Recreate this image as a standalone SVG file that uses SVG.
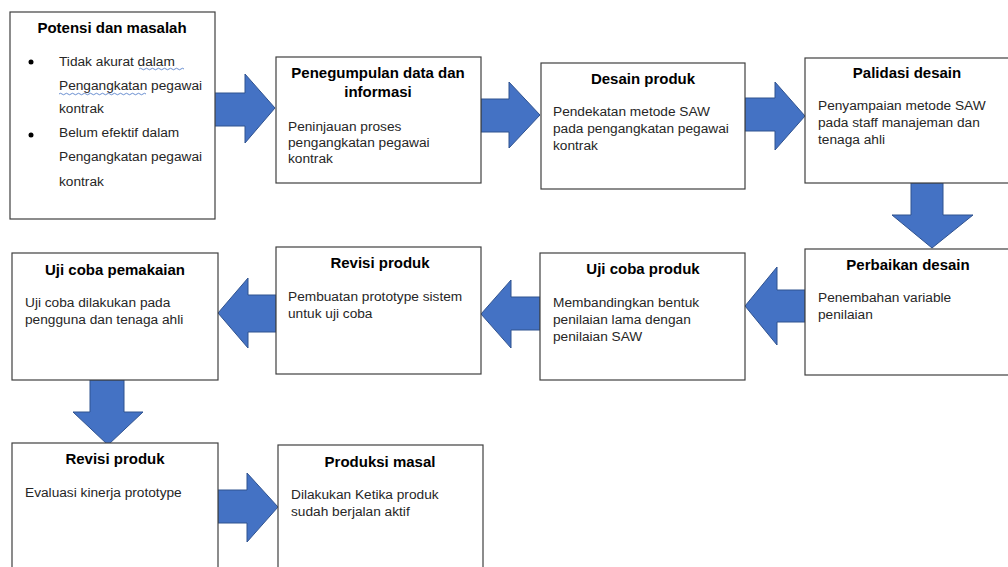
<svg xmlns="http://www.w3.org/2000/svg" width="1008" height="567" viewBox="0 0 1008 567">
<style>
.box{fill:#fff;stroke:#404040;stroke-width:1.2}
.t{font-family:"Liberation Sans",Arial,sans-serif;font-size:15px;font-weight:bold;fill:#000;text-anchor:middle}
.b{font-family:"Liberation Sans",Arial,sans-serif;font-size:13.7px;fill:#262626}
.arr{fill:#4472C4;stroke:#2F528F;stroke-width:1}
.sq{fill:none;stroke:#4472C4;stroke-width:0.8}
</style>
<rect width="1008" height="567" fill="#fff"/>
<g id="connectors">
<polygon class="arr" points="214,93 245,93 245,74 275,108 245,143 245,126 214,126"/>
<polygon class="arr" points="481,99 509,99 509,82 540,115 509,148 509,132 481,132"/>
<polygon class="arr" points="745,98 775,98 775,82 805,116 775,150 775,131 745,131"/>
<polygon class="arr" points="911,183 943,183 943,215 973,215 932,248 892,215 911,215"/>
<polygon class="arr" points="805,290 777,290 777,267 745,306 777,345 777,322 805,322"/>
<polygon class="arr" points="540,297 511,297 511,280 481,314 511,348 511,330 540,330"/>
<polygon class="arr" points="276,295 248,295 248,278 218,313 248,348 248,332 276,332"/>
<polygon class="arr" points="90,380 124,380 124,412 143,412 108,445 73,412 90,412"/>
<polygon class="arr" points="218,490 247,490 247,473 278,507 247,542 247,523 218,523"/>
</g>
<g id="n1">
<rect class="box" x="10" y="12" width="205" height="207"/>
<text class="t" x="112" y="33">Potensi dan masalah</text>
<circle cx="31" cy="62" r="2.5" fill="#000"/>
<circle cx="31" cy="135" r="2.5" fill="#000"/>
<text class="b" x="59" y="66">Tidak akurat dalam</text>
<text class="b" x="59" y="90">Pengangkatan pegawai</text>
<text class="b" x="59" y="113">kontrak</text>
<text class="b" x="59" y="137">Belum efektif dalam</text>
<text class="b" x="59" y="161">Pengangkatan pegawai</text>
<text class="b" x="59" y="186">kontrak</text>
<path class="sq" d="M139,69 q1.5,-1.5 3,0 t3,0 t3,0 t3,0 t3,0 t3,0 t3,0 t3,0 t3,0 t3,0 t3,0 t3,0 t3,0 t3,0 t3,0"/>
<path class="sq" d="M59,94 q1.5,-1.5 3,0 t3,0 t3,0 t3,0 t3,0 t3,0 t3,0 t3,0 t3,0 t3,0 t3,0 t3,0 t3,0 t3,0 t3,0 t3,0 t3,0 t3,0 t3,0 t3,0 t3,0 t3,0 t3,0 t3,0 t3,0 t3,0 t3,0 t3,0 t3,0"/>
</g>
<g id="n2">
<rect class="box" x="276" y="57" width="205" height="126"/>
<text class="t" x="378" y="78">Penegumpulan data dan</text>
<text class="t" x="378" y="97">informasi</text>
<text class="b" x="288" y="131">Peninjauan proses</text>
<text class="b" x="288" y="147">pengangkatan pegawai</text>
<text class="b" x="288" y="163">kontrak</text>
</g>
<g id="n3">
<rect class="box" x="541" y="63" width="204" height="126"/>
<text class="t" x="643" y="84">Desain produk</text>
<text class="b" x="553" y="116">Pendekatan metode SAW</text>
<text class="b" x="553" y="133">pada pengangkatan pegawai</text>
<text class="b" x="553" y="150">kontrak</text>
</g>
<g id="n4">
<rect class="box" x="805" y="58" width="210" height="125"/>
<text class="t" x="907" y="78">Palidasi desain</text>
<text class="b" x="818" y="110">Penyampaian metode SAW</text>
<text class="b" x="818" y="127">pada staff manajeman dan</text>
<text class="b" x="818" y="144">tenaga ahli</text>
</g>
<g id="n5">
<rect class="box" x="805" y="249" width="210" height="126"/>
<text class="t" x="908" y="270">Perbaikan desain</text>
<text class="b" x="818" y="302">Penembahan variable</text>
<text class="b" x="818" y="319">penilaian</text>
</g>
<g id="n6">
<rect class="box" x="540" y="253" width="205" height="127"/>
<text class="t" x="643" y="274">Uji coba produk</text>
<text class="b" x="553" y="307">Membandingkan bentuk</text>
<text class="b" x="553" y="324">penilaian lama dengan</text>
<text class="b" x="553" y="341">penilaian SAW</text>
</g>
<g id="n7">
<rect class="box" x="276" y="247" width="205" height="127"/>
<text class="t" x="380" y="268">Revisi produk</text>
<text class="b" x="288" y="301">Pembuatan prototype sistem</text>
<text class="b" x="288" y="318">untuk uji coba</text>
</g>
<g id="n8">
<rect class="box" x="12" y="253" width="206" height="127"/>
<text class="t" x="115" y="275">Uji coba pemakaian</text>
<text class="b" x="25" y="307">Uji coba dilakukan pada</text>
<text class="b" x="25" y="324">pengguna dan tenaga ahli</text>
</g>
<g id="n9">
<rect class="box" x="12" y="443" width="206" height="130"/>
<text class="t" x="115" y="464">Revisi produk</text>
<text class="b" x="25" y="497">Evaluasi kinerja prototype</text>
</g>
<g id="n10">
<rect class="box" x="278" y="445" width="205" height="130"/>
<text class="t" x="380" y="467">Produksi masal</text>
<text class="b" x="291" y="499">Dilakukan Ketika produk</text>
<text class="b" x="291" y="516">sudah berjalan aktif</text>
</g>
</svg>
